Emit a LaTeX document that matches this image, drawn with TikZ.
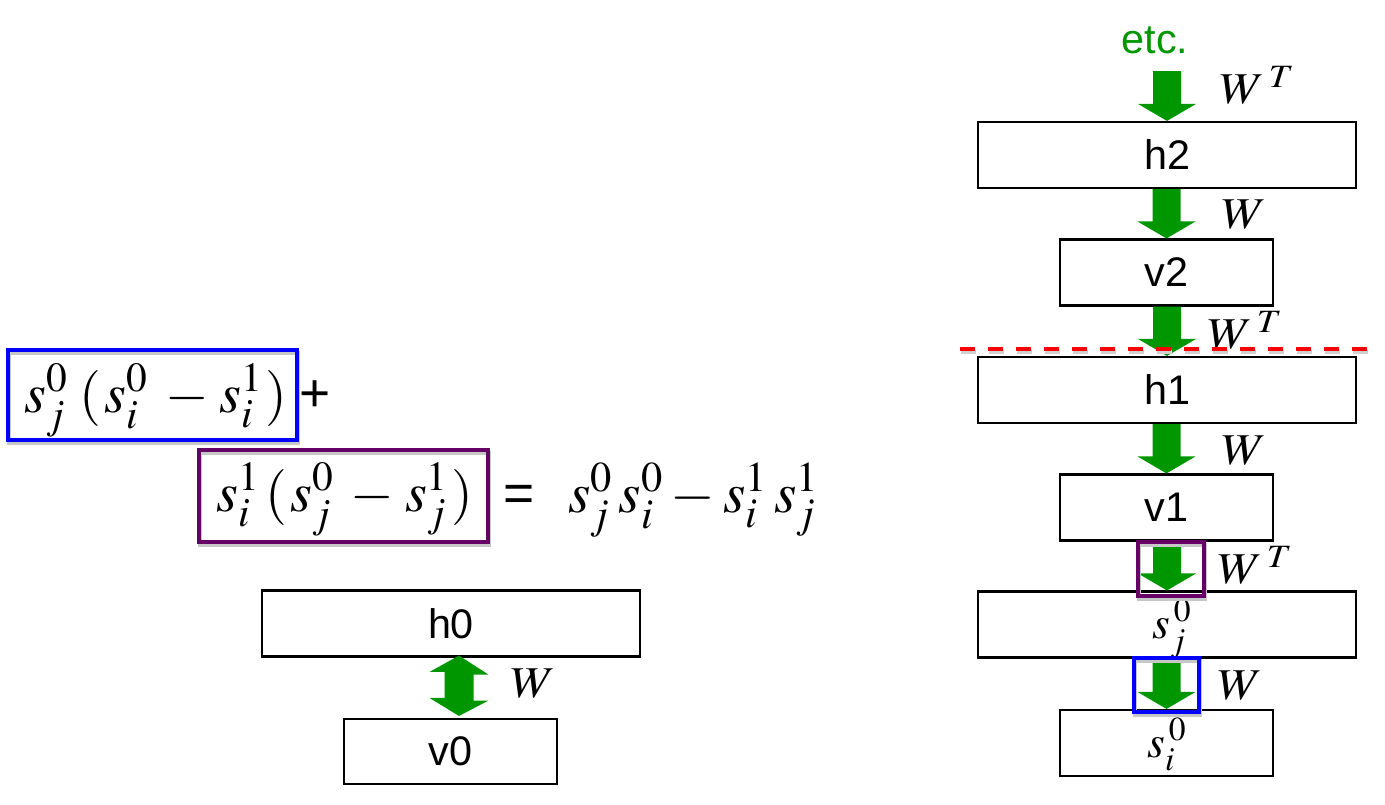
\documentclass[tikz,border=0pt]{standalone}
\usepackage{mathptmx}
\usepackage{graphicx}
\usepackage{fontspec}
\setmainfont{Liberation Sans}
\usetikzlibrary{calc}
\definecolor{agreen}{RGB}{0,150,0}
\definecolor{mpurple}{RGB}{102,0,102}
\definecolor{mblue}{RGB}{0,0,255}
\definecolor{mred}{RGB}{255,0,0}
\newcommand\blockarrow[2]{%
  \fill[agreen] ($(#2 |- #1)+(-14,0)$) -- ($(#2)+(-14,-17)$) -- ($(#2)+(-29,-17)$) -- (#2)
    -- ($(#2)+(29,-17)$) -- ($(#2)+(14,-17)$) -- ($(#2 |- #1)+(14,0)$) -- cycle;}
\newcommand\wlab[1]{\scalebox{1.12}[1]{$#1$}}
\begin{document}
\begin{tikzpicture}[x=0.75pt,y=-0.75pt,
  layer/.style={draw=black,line width=1.6pt,inner sep=0pt,font=\fontsize{31}{36}\selectfont},
  wide/.style={layer,minimum width=283.5pt,minimum height=49.5pt},
  narrow/.style={layer,minimum width=159.75pt,minimum height=49.5pt},
  wlabel/.style={anchor=base west,inner sep=0pt,font=\fontsize{33}{38}\selectfont},
  frame/.style={draw=#1,line width=3.4pt},
  shade/.style={draw=black!22,line width=3.4pt},
  bigmath/.style={inner sep=0pt,font=\fontsize{42}{46}\selectfont}]
\useasboundingbox (0,0) rectangle (1385,804);
% right column
\node[anchor=base,inner sep=0pt,text=agreen,font=\fontsize{31}{36}\selectfont] (etc) at (1155,53) {etc.};
\node[wide] (h2) at (1167,155) {h2};
\node[narrow] (v2) at (1166.5,272.5) {v2};
\node[wide] (h1) at (1167,390) {h1};
\node[narrow] (v1) at (1166.5,507.5) {v1};
\node[wide] (sj) at (1167,624.5) {};
\node[narrow] (si) at (1166.5,743) {};
\node[inner sep=0pt,anchor=base,font=\fontsize{34}{38}\selectfont] (sjt) at (1172,638) {$s_j^{\,0}$};
\node[inner sep=0pt,anchor=base,font=\fontsize{34}{38}\selectfont] (sit) at (1167,757) {$s_i^{\,0}$};
\coordinate (etcb) at (1167,71);
\blockarrow{etcb}{h2.north}
\blockarrow{h2.south}{v2.north}
\blockarrow{v2.south}{h1.north}
\blockarrow{h1.south}{v1.north}
\blockarrow{v1.south}{sj.north}
\blockarrow{sj.south}{si.north}
\node[wlabel] (l1) at (1220,103) {\wlab{W^{\,T}}};
\node[wlabel] (l2) at (1222,228) {\wlab{W}};
\node[wlabel] (l3) at (1208,348) {\wlab{W^{\,T}}};
\node[wlabel] (l4) at (1222,464) {\wlab{W}};
\node[wlabel] (l5) at (1218,583) {\wlab{W^{\,T}}};
\node[wlabel] (l6) at (1218,699) {\wlab{W}};
% red dashed line
\draw[black!18,line width=2.5pt,dash pattern=on 11.25pt off 9.75pt] (961,352) -- (1369,352);
\draw[mred,line width=2.5pt,dash pattern=on 11.25pt off 9.75pt] (960,349) -- (1368,349);
% highlight frames
\draw[shade] (1139,545) rectangle (1205,599);
\draw[frame=mpurple] (1138,542) rectangle (1204,596);
\draw[shade] (1135,661) rectangle (1200,715);
\draw[frame=mblue] (1134,658) rectangle (1199,712);
% left side
\node[wide] (h0) at (451,623.5) {h0};
\node[narrow,minimum height=48.75pt] (v0) at (450.5,751.5) {v0};
\fill[agreen] ($(h0.south)+(8,-2)$) -- ++(29.5,19) -- ++(-15,0) -- ++(0,26) -- ++(15,0)
  -- ($(v0.north)+(8.5,-2)$) -- ++(-29.5,-18) -- ++(15,0) -- ++(0,-26) -- ++(-15,0) -- cycle;
\node[wlabel] (l0) at (511,697) {\wlab{W}};
\draw[shade] (9,353) rectangle (298,443);
\node[frame=mblue,minimum width=216.75pt,minimum height=67.5pt,inner sep=0pt] (bb) at (152.5,395) {};
\node[bigmath,anchor=base west] (f1) at (24,412) {$s_j^0\mkern4mu(\mkern1mu s_i^0\mkern3mu-\mkern1mu s_i^1\mkern1mu)$};
\node[inner sep=0pt,font=\fontsize{40}{44}\selectfont] (plus) at (315,396) {+};
\draw[shade] (200,453) rectangle (489,545);
\node[frame=mpurple,minimum width=216.75pt,minimum height=69pt,inner sep=0pt] (pb) at (343.5,496) {};
\node[bigmath,anchor=base west] (f2) at (216,511) {$s_i^1\mkern2mu(\mkern1mu s_j^0\mkern3mu-\mkern1mu s_j^1\mkern1mu)$};
\node[inner sep=0pt,font=\fontsize{40}{44}\selectfont] (eq) at (519,498) {=};
\node[inner sep=0pt,anchor=base west,font=\fontsize{43}{47}\selectfont] (f3) at (568,512) {$s_j^0\mkern2mu s_i^0-s_i^1\mkern2mu s_j^1$};
\end{tikzpicture}
\end{document}
